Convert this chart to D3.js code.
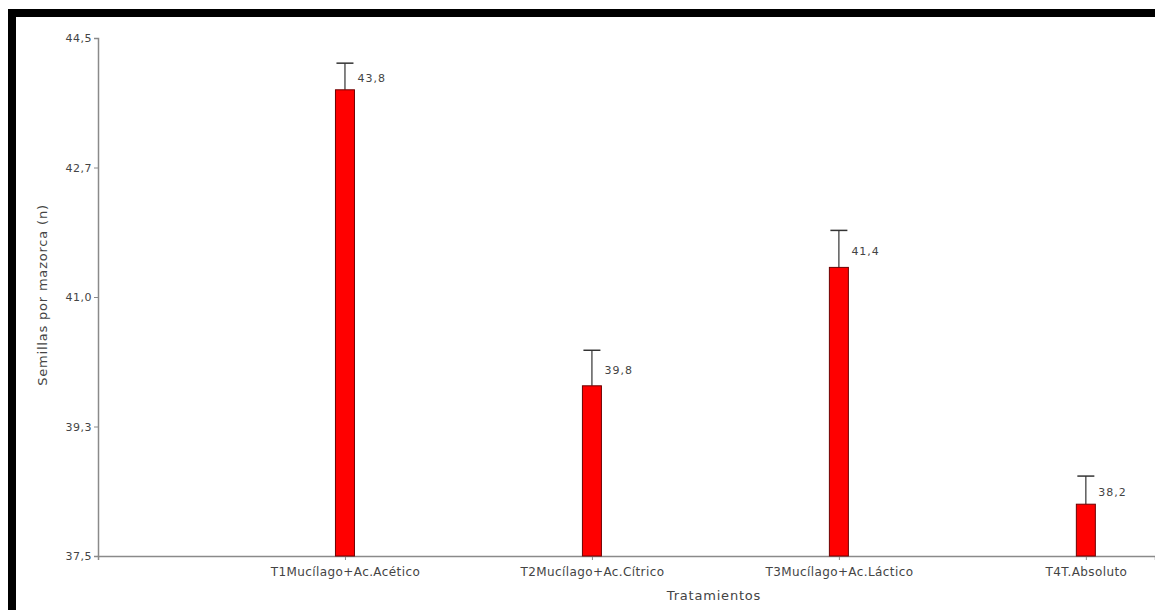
<!DOCTYPE html>
<html>
<head>
<meta charset="utf-8">
<script src="https://cdn.jsdelivr.net/npm/d3@7"></script>
<style>
  html, body { margin: 0; padding: 0; background: #fff; }
  svg { display: block; font-family: "DejaVu Sans", Arial, sans-serif; }
</style>
</head>
<body>
<svg id="chart" width="1155" height="610"></svg>
<script>
// Seeds per cob by treatment
const categories = [
  "T1Mucílago+Ac.Acético",
  "T2Mucílago+Ac.Cítrico",
  "T3Mucílago+Ac.Láctico",
  "T4T.Absoluto"
];
const means = [43.8, 39.8, 41.4, 38.2];
const errors = [0.36, 0.48, 0.5, 0.38];
const valueLabels = ["43,8", "39,8", "41,4", "38,2"];
const yTickValues = [37.5, 39.25, 41.0, 42.75, 44.5];
const yTickLabels = ["37,5", "39,3", "41,0", "42,7", "44,5"];

const W = 1155, H = 610;
const svg = d3.select("#chart");

// frame
svg.append("rect").attr("x", 8).attr("y", 9).attr("width", W - 8).attr("height", 8).attr("fill", "#000");
svg.append("rect").attr("x", 8).attr("y", 9).attr("width", 8).attr("height", H - 9).attr("fill", "#000");

const y = d3.scaleLinear().domain([37.5, 44.5]).range([556, 38]);
const x = d3.scaleLinear().domain([0, 4.28]).range([98, W]);

const axisColor = "#8a8a8a";
const textColor = "#444";

// y axis
const yAxis = svg.append("g")
  .attr("transform", "translate(98,0)")
  .call(d3.axisLeft(y).tickValues(yTickValues)
    .tickFormat((d, i) => yTickLabels[i]).tickSize(4).tickPadding(2));
yAxis.select(".domain").attr("stroke", axisColor).attr("stroke-width", 1.5);
yAxis.selectAll(".tick line").attr("stroke", axisColor);
yAxis.selectAll(".tick text").attr("fill", textColor)
  .attr("font-size", 11).attr("letter-spacing", 0.5).attr("font-family", "DejaVu Sans");

// x axis
const xAxis = svg.append("g")
  .attr("transform", "translate(0,556)")
  .call(d3.axisBottom(x).tickValues(categories.map((c, i) => i + 1))
    .tickFormat((d, i) => categories[i]).tickSize(4).tickPadding(7));
xAxis.select(".domain").attr("stroke", axisColor).attr("stroke-width", 1.5);
xAxis.selectAll(".tick line").attr("stroke", axisColor);
xAxis.selectAll(".tick text").attr("fill", textColor)
  .attr("font-size", 12).attr("letter-spacing", 0.4).attr("font-family", "DejaVu Sans");

// axis titles
svg.append("text")
  .attr("x", 714).attr("y", 600)
  .attr("text-anchor", "middle")
  .attr("font-size", 13).attr("letter-spacing", 0.8).attr("fill", textColor)
  .text("Tratamientos");
svg.append("text")
  .attr("transform", "translate(47,295) rotate(-90)")
  .attr("text-anchor", "middle")
  .attr("font-size", 13).attr("letter-spacing", 0.8).attr("fill", textColor)
  .text("Semillas por mazorca (n)");

const barW = 19, capW = 17;
const data = categories.map((c, i) => ({ c, i, m: means[i], e: errors[i], lab: valueLabels[i] }));

// error bars (drawn upward from bar top)
svg.selectAll(".err").data(data).enter().append("line")
  .attr("x1", d => x(d.i + 1)).attr("x2", d => x(d.i + 1))
  .attr("y1", d => y(d.m)).attr("y2", d => y(d.m + d.e))
  .attr("stroke", "#333").attr("stroke-width", 1.2);
svg.selectAll(".cap").data(data).enter().append("line")
  .attr("x1", d => x(d.i + 1) - capW / 2).attr("x2", d => x(d.i + 1) + capW / 2)
  .attr("y1", d => y(d.m + d.e)).attr("y2", d => y(d.m + d.e))
  .attr("stroke", "#333").attr("stroke-width", 1.5);

// bars
svg.selectAll(".bar").data(data).enter().append("rect")
  .attr("x", d => x(d.i + 1) - barW / 2)
  .attr("y", d => y(d.m))
  .attr("width", barW)
  .attr("height", d => y(37.5) - y(d.m))
  .attr("fill", "#ff0000")
  .attr("stroke", "#6e0000").attr("stroke-width", 1);

// value labels
svg.selectAll(".val").data(data).enter().append("text")
  .attr("x", d => x(d.i + 1) + barW / 2 + 3)
  .attr("y", d => (y(d.m) + y(d.m + d.e)) / 2 + 6)
  .attr("font-size", 11).attr("letter-spacing", 1).attr("fill", textColor)
  .text(d => d.lab);
</script>
</body>
</html>
